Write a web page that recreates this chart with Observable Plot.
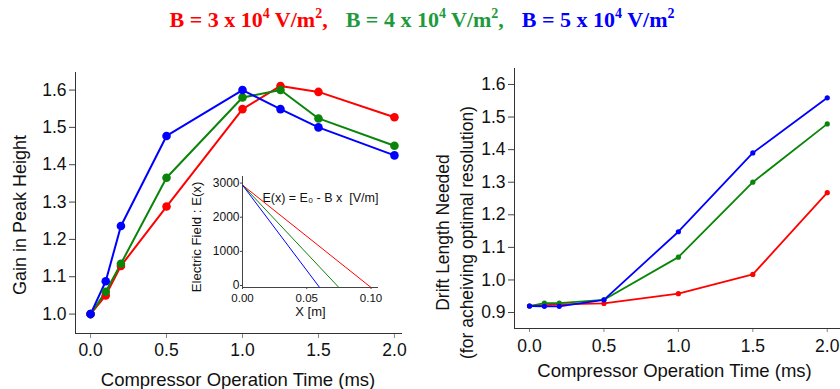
<!DOCTYPE html>
<html><head><meta charset="utf-8">
<script src="https://cdn.jsdelivr.net/npm/d3@7"></script>
<script src="https://cdn.jsdelivr.net/npm/@observablehq/plot@0.6"></script>
<style>
body{margin:0;background:#fff;width:840px;height:389px;overflow:hidden;position:relative;font-family:"Liberation Sans",Arial,sans-serif}
#title{position:absolute;left:0;top:6px;width:844px;text-align:center;font-family:"Liberation Serif","Times New Roman",serif;font-weight:bold;font-size:22px;line-height:28px;white-space:nowrap}
#title sup{font-size:14px;line-height:0;position:relative;top:-1px}
#title .gap{display:inline-block;width:18px}
.p{position:absolute}
</style></head><body>
<div id="title"></div>
<div id="left" class="p" style="left:0;top:60px"></div>
<div id="right" class="p" style="left:420px;top:60px"></div>
<div id="inset" class="p" style="left:180px;top:160px"></div>
<script>
// ---- data ----
const seriesNames = ["B = 3 x 10^4", "B = 4 x 10^4", "B = 5 x 10^4"];
const seriesColors = ["#ff0000", "#0a850a", "#0000ff"];
const titleColors = ["#ff0000", "#1e9a3c", "#0000ff"];
const titleMantissa = ["3", "4", "5"];

const gainTimes = [0, 0.1, 0.2, 0.5, 1.0, 1.25, 1.5, 2.0];
const gainRed   = [1.0, 1.05, 1.129, 1.288, 1.549, 1.611, 1.595, 1.527];
const gainGreen = [1.0, 1.06, 1.135, 1.365, 1.58, 1.60, 1.524, 1.451];
const gainBlue  = [1.0, 1.088, 1.236, 1.477, 1.60, 1.549, 1.50, 1.425];

const driftTimes = [0, 0.1, 0.2, 0.5, 1.0, 1.5, 2.0];
const driftRed   = [0.92, 0.923, 0.925, 0.928, 0.958, 1.017, 1.268];
const driftGreen = [0.92, 0.929, 0.929, 0.939, 1.07, 1.30, 1.479];
const driftBlue  = [0.92, 0.919, 0.919, 0.939, 1.148, 1.39, 1.559];

const fieldE0 = 3000;
const fieldZeroX = [0.10, 0.075, 0.06];

const timeTicks = [0, 0.5, 1.0, 1.5, 2.0];
const gainTicks = [1.0, 1.1, 1.2, 1.3, 1.4, 1.5, 1.6];
const driftTicks = [0.9, 1.0, 1.1, 1.2, 1.3, 1.4, 1.5, 1.6];
const fieldTicksY = [0, 1000, 2000, 3000];
const fieldTicksX = [0, 0.05, 0.10];

// ---- title ----
const title = document.getElementById("title");
title.innerHTML = titleMantissa.map((m, i) =>
  `<span style="color:${titleColors[i]}">B = ${m} x 10<sup>4</sup> V/m<sup>2</sup>${i < 2 ? "," : ""}</span>`
).join('<span class="gap"></span>');

function toRows(xs, ys, s) { return xs.map((x, i) => ({x, y: ys[i], s})); }

const gainRows = [
  ...toRows(gainTimes, gainRed, 0),
  ...toRows(gainTimes, gainGreen, 1),
  ...toRows(gainTimes, gainBlue, 2)
];
const driftRows = [
  ...toRows(driftTimes, driftRed, 0),
  ...toRows(driftTimes, driftGreen, 1),
  ...toRows(driftTimes, driftBlue, 2)
];

const font = {fontFamily: "'Liberation Sans', Arial, sans-serif", background: "transparent", overflow: "visible"};

// ---- left chart ----
const lxDom = [-0.099, 2.053], lyDom = [0.948, 1.647];
const left = Plot.plot({
  width: 420, height: 329,
  marginLeft: 75, marginRight: 18, marginTop: 12, marginBottom: 56,
  style: {...font, fontSize: "17px"},
  x: {domain: lxDom},
  y: {domain: lyDom},
  color: {domain: [0, 1, 2], range: seriesColors},
  marks: [
    Plot.axisX({ticks: timeTicks, tickFormat: d3.format(".1f"), tickSize: 5, tickPadding: 5, stroke: "#888", fill: "#111", fontSize: 17.5, label: null}),
    Plot.axisY({ticks: gainTicks, tickFormat: d3.format(".1f"), tickSize: 6, tickPadding: 3, stroke: "#444", fill: "#111", fontSize: 17.5, label: null}),
    Plot.ruleX([lxDom[0]], {stroke: "#333"}),
    Plot.ruleY([lyDom[0]], {stroke: "#333"}),
    Plot.line(gainRows, {x: "x", y: "y", z: "s", stroke: "s", strokeWidth: 2}),
    Plot.dot(gainRows, {x: "x", y: "y", fill: "s", r: 4.3}),
    Plot.text(["Compressor Operation Time (ms)"], {frameAnchor: "bottom", textAnchor: "middle", lineAnchor: "middle", dy: 47, dx: -1, fontSize: 18.5, fill: "#111"}),
    Plot.text(["Gain in Peak Height"], {frameAnchor: "left", textAnchor: "middle", lineAnchor: "middle", rotate: -90, dx: -55, dy: 12, fontSize: 18, fill: "#111"})
  ]
});
document.getElementById("left").append(left);

// ---- right chart ----
const rxDom = [-0.1008, 2.089], ryDom = [0.851, 1.649];
const right = Plot.plot({
  width: 420, height: 329,
  marginLeft: 94, marginRight: 0, marginTop: 8, marginBottom: 61,
  style: {...font, fontSize: "17px"},
  x: {domain: rxDom},
  y: {domain: ryDom},
  color: {domain: [0, 1, 2], range: seriesColors},
  marks: [
    Plot.axisX({ticks: timeTicks, tickFormat: d3.format(".1f"), tickSize: 4, tickPadding: 7, stroke: "#888", fill: "#111", fontSize: 17.5, label: null}),
    Plot.axisY({ticks: driftTicks, tickFormat: d3.format(".1f"), tickSize: 6, tickPadding: 3, stroke: "#444", fill: "#111", fontSize: 17.5, label: null}),
    Plot.ruleX([rxDom[0]], {stroke: "#333"}),
    Plot.ruleY([ryDom[0]], {stroke: "#333"}),
    Plot.line(driftRows, {x: "x", y: "y", z: "s", stroke: "s", strokeWidth: 1.8}),
    Plot.dot(driftRows, {x: "x", y: "y", fill: "s", r: 2.6}),
    Plot.text(["Compressor Operation Time (ms)"], {frameAnchor: "bottom", textAnchor: "middle", lineAnchor: "middle", dy: 43, dx: -3, fontSize: 18.5, fill: "#111"}),
    Plot.text(["Drift Length Needed\n(for acheiving optimal resolution)"], {frameAnchor: "left", textAnchor: "middle", lineAnchor: "middle", lineHeight: 1.33, rotate: -90, dx: -61, dy: 34, fontSize: 17.5, fill: "#111"})
  ]
});
document.getElementById("right").append(right);

// ---- inset ----
const ixDom = [0, 0.1058], iyDom = [0, 3252];
const fieldRows = fieldZeroX.map((x2, i) => ({x1: 0, y1: fieldE0, x2, y2: 0, s: i}));
const inset = Plot.plot({
  width: 210, height: 180,
  marginLeft: 62, marginRight: 12, marginTop: 16, marginBottom: 53,
  style: {...font, fontSize: "12px"},
  x: {domain: ixDom},
  y: {domain: iyDom},
  color: {domain: [0, 1, 2], range: seriesColors},
  marks: [
    Plot.axisX({ticks: fieldTicksX, tickFormat: d3.format(".2f"), tickSize: 2, tickPadding: 4, stroke: "#444", fill: "#111", fontSize: 11.5, label: null}),
    Plot.axisY({ticks: fieldTicksY, tickFormat: d3.format("d"), tickSize: 2, tickPadding: 1, dy: -2, stroke: "#444", fill: "#111", fontSize: 12, label: null}),
    Plot.ruleX([ixDom[0]], {stroke: "#444"}),
    Plot.ruleY([iyDom[0]], {stroke: "#444"}),
    Plot.link(fieldRows, {x1: "x1", y1: "y1", x2: "x2", y2: "y2", stroke: "s", strokeWidth: 1}),
    Plot.text(["E(x) = E\u2080 - B x \u00a0[V/m]"], {x: 0.0155, y: 2630, textAnchor: "start", lineAnchor: "middle", fontSize: 12.5, fill: "#111"}),
    Plot.text(["X [m]"], {frameAnchor: "bottom", textAnchor: "middle", lineAnchor: "middle", dy: 24, fontSize: 13, fill: "#111"}),
    Plot.text(["Electric Field : E(x)"], {frameAnchor: "left", textAnchor: "middle", lineAnchor: "middle", rotate: -90, dx: -46, dy: 5, fontSize: 13.2, fill: "#111"})
  ]
});
document.getElementById("inset").append(inset);
</script>
</body></html>
